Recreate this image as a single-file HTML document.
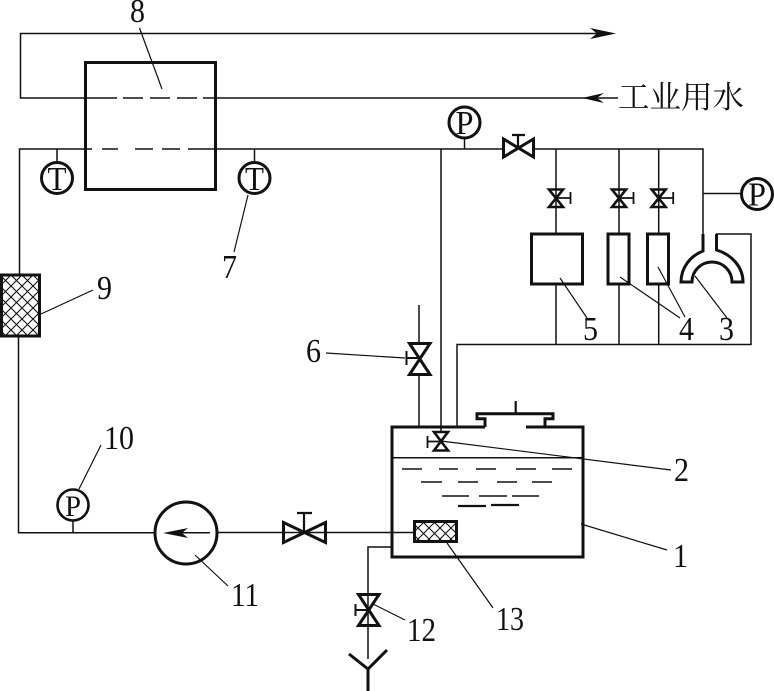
<!DOCTYPE html>
<html><head><meta charset="utf-8"><style>
html,body{margin:0;padding:0;background:#fff}
svg{display:block}
text{font-family:"Liberation Serif","Noto Serif CJK SC",serif;font-size:34px;fill:#111}
</style></head><body>
<svg width="774" height="691" viewBox="0 0 774 691" xmlns="http://www.w3.org/2000/svg">
<defs>
<pattern id="h" width="11" height="11" patternUnits="userSpaceOnUse">
<path d="M-1,-1L12,12M-1,10L1,12M10,-1L12,1M12,-1L-1,12M1,-1L-1,1M12,10L10,12" stroke="#111" stroke-width="1.1" fill="none"/>
</pattern>
</defs>
<rect width="774" height="691" fill="#fff"/>
<g fill="none" stroke="#111" stroke-width="1.5">
<path d="M612,33.5H20.5V98H117M123,98H143M150,98H170M177,98H197M203,98H618"/>
<path d="M92,149H19.5V274M18.5,337V532.7H155M218,532.5H391"/>
<path d="M102,149H118M135,149H153M162,149H180M188,149H503M534,149H703V234"/>
<path d="M441,149V432M457,427V344.5H751V234H716"/>
<path d="M556,149V234M619,149V234M658.7,149V234M556,284V344M619,284V344M658.7,284V344"/>
<path d="M703,193.5H741"/>
<path d="M419,427V375M419,342V305"/>
<path d="M391,547H368V659"/>
<path d="M57,149V163M254.5,149V163M464.5,139V149M73,520V533"/>
<path d="M391,532.5H414"/>
<path d="M392,457.7H583"/>
<path d="M402,469H422M439,469H458M476,469H496M516,469H536M552,469H572"/>
<path d="M421,482H442M458,482H478M497,482H517M532,482H552"/>
<path d="M442,496H469M479,496H507M512,496H539"/>
</g>
<g fill="none" stroke="#111" stroke-width="2.2">
<path d="M458,506H486M491,505H519"/>
</g>
<g fill="none" stroke="#111" stroke-width="1.2">
<path d="M139.5,28L162,89M248,195L234,252M41,314L93,290M326,353L405,358M101,445L79,489M195,555L228,586"/>
<path d="M441,441L671,470M581,524L667,550M447,543L493,608M373,604L405,620"/>
<path d="M560,278L587,318M620,277L680,318M658,267L685,317M695,276L727,318"/>
</g>
<g fill="none" stroke="#111" stroke-width="3">
<rect x="85.5" y="62.5" width="130" height="127"/>
<circle cx="57" cy="178" r="15.5"/>
<circle cx="254.5" cy="178" r="15.5"/>
<circle cx="464.5" cy="122.5" r="15.5"/>
<circle cx="757" cy="194" r="15.5"/>
<circle cx="73" cy="505" r="15.5" stroke-width="2.6"/>
<circle cx="186" cy="533" r="31"/>
<rect x="1.5" y="275" width="38" height="61" fill="url(#h)"/>
<rect x="414.5" y="521.5" width="42" height="20" fill="url(#h)"/>
<rect x="531.5" y="234" width="51" height="50"/>
<rect x="608" y="234" width="21" height="50"/>
<rect x="647.5" y="234" width="21" height="50"/>
<path d="M485,427H392V557H583V427H526M485,427V418.7H477V413.7H553V418.7H545V427" stroke-linejoin="miter"/>
<path d="M515.7,401V413" stroke-width="2.2"/>
<path d="M703,234V251C690,256 681,268 681,282H692A20,20 0 0 1 732,282H743C743,268 733,255 716.5,250V234"/>
<path d="M283.5,522.5V542.5L325.5,522.5V542.5Z"/>
<path d="M304,532V514M297,513H312" stroke-width="2.2"/>
<path d="M503.5,139V157L533.5,139V157Z"/>
<path d="M518,149V136M512,135H525" stroke-width="2.2"/>
<path d="M349,654L368,669L387,650M368,669V691"/>
</g>
<g fill="none" stroke="#111" stroke-width="2.6">
<path d="M549,189.5H563L549,207H563Z"/><path d="M556,198H570M570.5,192V204" stroke-width="1.8"/>
<path d="M612,189.5H626L612,207H626Z"/><path d="M619,198H633M633.5,192V204" stroke-width="1.8"/>
<path d="M651.7,189.5H665.7L651.7,207H665.7Z"/><path d="M658.7,198H672.7M673.2,192V204" stroke-width="1.8"/>
<path d="M434,432H448L434,450.5H448Z"/><path d="M441,441.5H428M427.5,436V448" stroke-width="1.8"/>
<path d="M409.5,343.5H430L409.5,374.5H430Z" stroke-width="3"/><path d="M419.5,358H406.5M406.5,351V365" stroke-width="2"/>
<path d="M358.5,594.5H379L358.5,625.5H379Z" stroke-width="3"/><path d="M368.5,610H355.5M355.5,604V616" stroke-width="2"/>
</g>
<g fill="#111" stroke="none">
<path d="M616,33.5L590,28L597,33.5L590,39Z"/>
<path d="M582,98L604,93L597,98L604,103Z"/>
<path d="M210,532.7H170" stroke="#111" stroke-width="1.5" fill="none"/>
<path d="M163,533L188,528L182,533L188,538Z"/>
</g>
<text x="47.5" y="190" textLength="19" lengthAdjust="spacingAndGlyphs">T</text>
<text x="245" y="190" textLength="19" lengthAdjust="spacingAndGlyphs">T</text>
<text x="455.5" y="134" textLength="18" lengthAdjust="spacingAndGlyphs">P</text>
<text x="748" y="205.5" textLength="18" lengthAdjust="spacingAndGlyphs">P</text>
<text x="65" y="516" textLength="16" lengthAdjust="spacingAndGlyphs" style="font-size:30px">P</text>
<text x="130" y="22" textLength="15" lengthAdjust="spacingAndGlyphs">8</text>
<text x="222" y="278" textLength="15" lengthAdjust="spacingAndGlyphs">7</text>
<text x="97" y="299" textLength="15" lengthAdjust="spacingAndGlyphs">9</text>
<text x="306" y="362" textLength="15" lengthAdjust="spacingAndGlyphs">6</text>
<text x="104" y="449" textLength="30" lengthAdjust="spacingAndGlyphs">10</text>
<text x="231" y="606" textLength="28" lengthAdjust="spacingAndGlyphs">11</text>
<text x="407" y="641" textLength="29" lengthAdjust="spacingAndGlyphs">12</text>
<text x="496" y="630" textLength="28" lengthAdjust="spacingAndGlyphs">13</text>
<text x="674" y="481" textLength="15" lengthAdjust="spacingAndGlyphs">2</text>
<text x="673" y="567" textLength="15" lengthAdjust="spacingAndGlyphs">1</text>
<text x="583" y="340" textLength="15" lengthAdjust="spacingAndGlyphs">5</text>
<text x="679" y="340" textLength="15" lengthAdjust="spacingAndGlyphs">4</text>
<text x="719" y="340" textLength="15" lengthAdjust="spacingAndGlyphs">3</text>
<text x="618" y="108" textLength="126" lengthAdjust="spacingAndGlyphs" style="font-size:31px">工业用水</text>
</svg>
</body></html>
